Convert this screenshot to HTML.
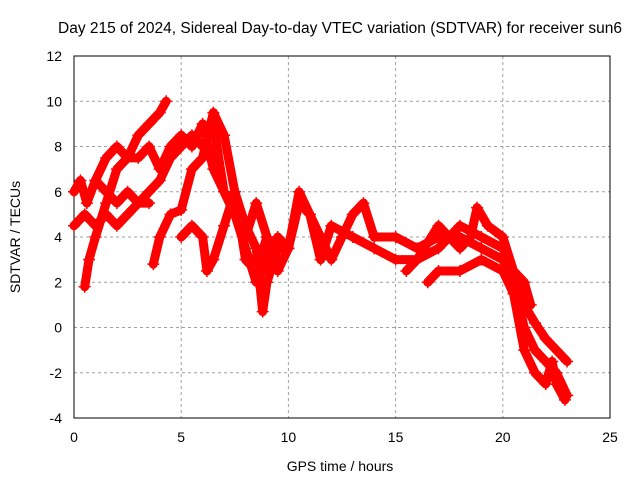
<!DOCTYPE html>
<html><head><meta charset="utf-8"><style>
body{margin:0;background:#fff}
svg text{font-family:"Liberation Sans",sans-serif;font-size:14px;fill:#000}
</style></head><body>
<svg width="640" height="480">
<text x="340" y="33" text-anchor="middle" style="font-size:15.5px">Day 215 of 2024, Sidereal Day-to-day VTEC variation (SDTVAR) for receiver sun6</text>
<g id="grid"></g>
<rect x="74" y="56" width="536" height="362" fill="none" stroke="#000"/>
<g id="ticks"></g>
<g id="series"></g>
<text x="340" y="471" text-anchor="middle">GPS time / hours</text>
<text transform="translate(20,237) rotate(-90)" text-anchor="middle">SDTVAR / TECUs</text>
</svg>
<script>
const xTicks=[0,5,10,15,20,25];
const yTicks=[-4,-2,0,2,4,6,8,10,12];
const arcA=[[0,6],[0.3,6.5],[0.6,5.5],[1,6.5],[1.5,6],[2,5.5],[2.5,6],[3,5.5],[3.5,5.5]];
const arcB=[[0.5,1.8],[0.7,3],[1,4],[1.5,5.5],[2,7],[2.5,7.5],[3,8.5],[3.5,9],[4,9.5],[4.3,10]];
const arcC=[[0,4.5],[0.5,5],[1,4.5],[1.5,5],[2,4.5],[2.5,5],[3,5.5],[3.5,6],[4,6.5],[4.5,7.5],[5,8],[5.5,8.5],[6,8],[6.5,9],[7,6],[7.5,5],[8,3.5],[8.5,2],[9,3],[9.5,4],[10,3.5],[10.5,6],[11,5],[11.5,4],[12,3],[12.5,4],[13,5],[13.5,5.5],[14,4],[15,4],[16,3.5],[17,4],[18,4],[19,3.5],[20,3],[20.5,2],[21,0],[21.5,-1],[22,-1.5],[22.5,-2],[23,-3]];
const arcD=[[3.7,2.8],[4,4],[4.5,5],[5,5.2],[5.5,7],[6,7.5],[6.5,9.5],[7,8.5],[7.5,6],[8,3],[8.5,2.5],[9,4],[9.5,2.5],[10,3.5],[10.5,5.5],[11,5],[11.5,3],[12,4.5],[13,4],[14,3.5],[15,3],[16,3],[17,3.5],[18,4.5],[19,4],[20,3.5],[20.5,2.5],[21,1],[21.5,0.2],[22,-0.5],[23,-1.5]];
const arcE=[[5,4],[5.5,4.5],[6,4],[6.2,2.5],[6.5,3],[7,4.5],[7.5,6],[8,4.5],[8.5,3.5],[8.8,0.7],[9,2],[9.5,3.5],[10,3.5]];
const arcF=[[1,6.5],[1.5,7.5],[2,8],[2.5,7.5],[3,7.5],[3.5,8],[4,7],[4.5,8],[5,8.5],[5.5,8],[6,9],[6.5,7],[7,6],[7.5,5],[8,4],[8.5,5.5],[9,4]];
const arcG=[[15.5,2.5],[16,3],[17,4.5],[17.5,4],[18,3.5],[18.5,4],[18.8,5.3],[19.3,4.5],[20,4],[20.5,2.5],[21,2],[21.3,1]];
const arcH=[[16.5,2],[17,2.5],[18,2.5],[19,3],[20,2.5],[20.5,1.5],[21,-1],[21.5,-2],[22,-2.5],[22.3,-1.5],[22.5,-2.5],[22.9,-3.2]];
const arcs=[arcA,arcB,arcC,arcD,arcE,arcF,arcG,arcH];
const NS="http://www.w3.org/2000/svg";
const X=h=>74+h*536/25, Y=v=>56+(12-v)*362/16;
const grid=document.getElementById('grid'),ticks=document.getElementById('ticks'),ser=document.getElementById('series');
function mk(t,a,p){const e=document.createElementNS(NS,t);for(const k in a)e.setAttribute(k,a[k]);p.appendChild(e);return e;}
xTicks.forEach(t=>{const x=X(t);
 if(t>0&&t<25){const g=mk('line',{x1:x,x2:x,y1:56,y2:418,stroke:'#a0a0a0','stroke-dasharray':'3,3'},grid);
 
 }
 const l=mk('text',{x:x,y:442,'text-anchor':'middle'},ticks);l.textContent=t;
 
 });
yTicks.forEach(t=>{const y=Y(t);
 if(t>-4&&t<12){const g=mk('line',{x1:74,x2:610,y1:y,y2:y,stroke:'#a0a0a0','stroke-dasharray':'3,3'},grid);
 
 }
 const l=mk('text',{x:62,y:y+5,'text-anchor':'end'},ticks);l.textContent=t;
 
 });
arcs.forEach((a,i)=>{const p=mk('polyline',{points:a.map(d=>X(d[0])+','+Y(d[1])).join(' '),fill:'none',stroke:'#ff0000','stroke-width':9,'stroke-linejoin':'round','stroke-linecap':'round'},ser);
 
 
 a.forEach(d=>{const x=X(d[0]),y=Y(d[1]);
  const c=mk('path',{d:`M${x-6},${y}H${x+6}M${x},${y-6}V${y+6}`,stroke:'#ff0000','stroke-width':1.5},ser);
  
  });});
</script>
</body></html>
